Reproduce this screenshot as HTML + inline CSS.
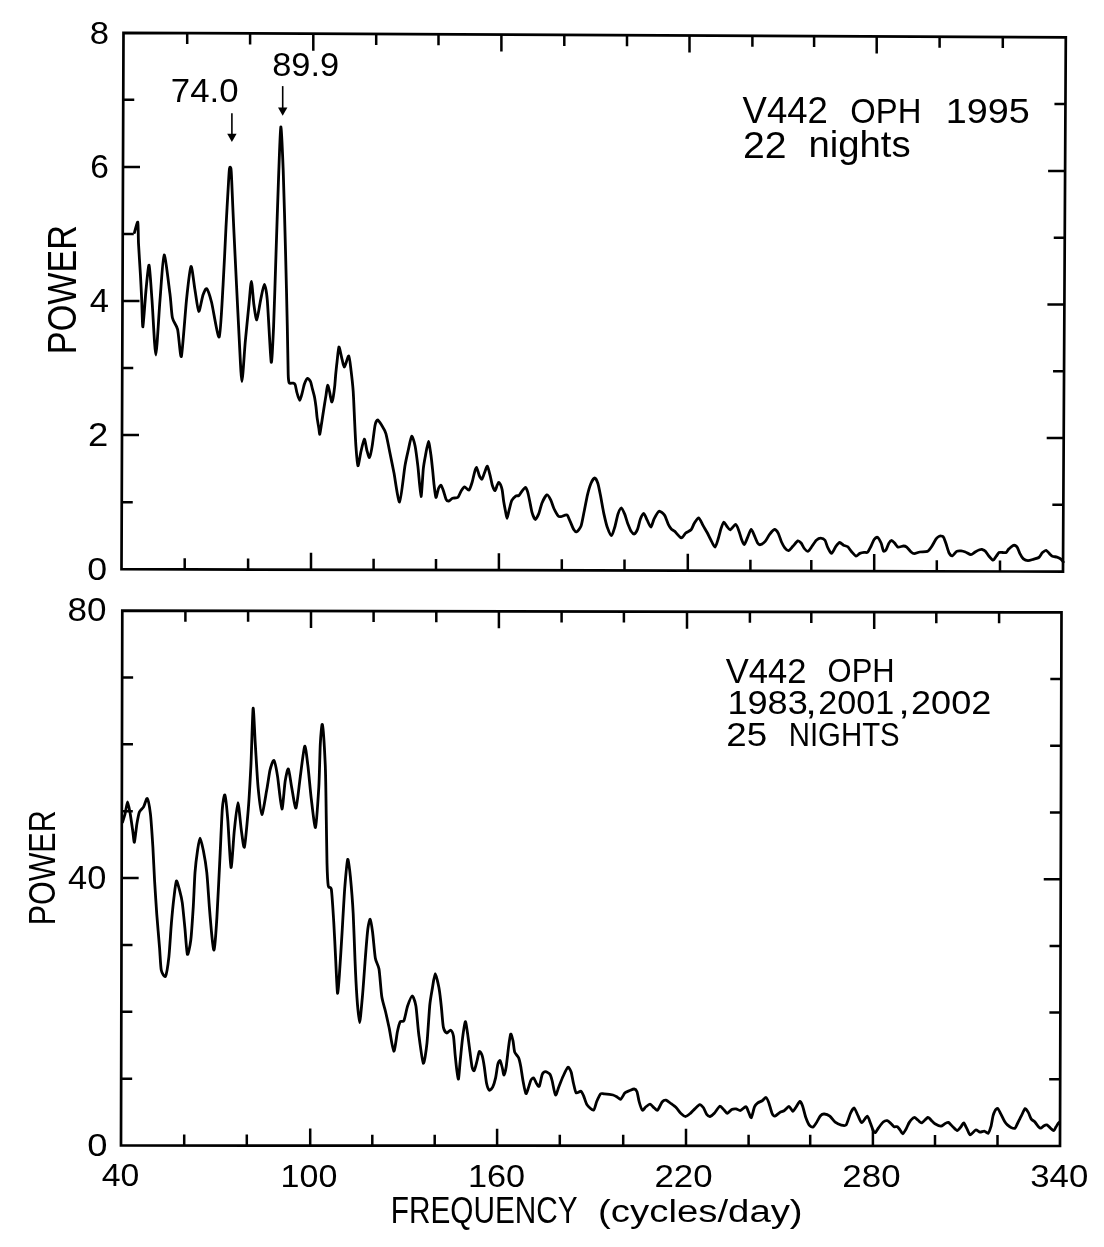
<!DOCTYPE html>
<html><head><meta charset="utf-8"><title>V442 Oph power spectra</title>
<style>html,body{margin:0;padding:0;background:#fff;}svg{display:block;will-change:transform;}</style></head>
<body><svg width="1104" height="1247" viewBox="0 0 1104 1247">
<rect width="1104" height="1247" fill="#fff"/>
<polygon points="123.5,32.8 1065.8,37.3 1063.0,571.6 121.5,569.2" fill="none" stroke="#000" stroke-width="2.7" stroke-linejoin="miter"/><polygon points="122.3,610.6 1061.5,612.4 1060.0,1146.0 121.0,1145.5" fill="none" stroke="#000" stroke-width="2.7" stroke-linejoin="miter"/><path d="M187.20 33.10v11.0 M184.70 569.36v-11.0 M250.10 33.40v11.0 M248.10 569.52v-11.0 M313.30 33.70v17.0 M311.00 569.68v-17.0 M376.20 34.00v11.0 M373.60 569.84v-11.0 M438.50 34.30v11.0 M436.00 570.00v-11.0 M501.40 34.60v17.0 M498.90 570.16v-17.0 M564.30 34.90v11.0 M561.80 570.32v-11.0 M627.00 35.20v11.0 M624.50 570.48v-11.0 M689.50 35.50v17.0 M687.80 570.64v-17.0 M752.40 35.80v11.0 M750.40 570.80v-11.0 M814.10 36.10v11.0 M811.30 570.96v-11.0 M876.70 36.40v17.0 M874.20 571.12v-17.0 M939.60 36.70v11.0 M936.80 571.28v-11.0 M1002.80 37.00v11.0 M1000.00 571.44v-11.0 M121.75 502.15h11.0 M1063.35 504.81h-11.0 M122.00 435.10h17.0 M1063.70 438.03h-17.0 M122.25 368.05h11.0 M1064.05 371.24h-11.0 M122.50 301.00h17.0 M1064.40 304.45h-17.0 M122.75 233.95h11.0 M1064.75 237.66h-11.0 M123.00 166.90h17.0 M1065.10 170.88h-17.0 M123.25 99.85h11.0 M1065.45 104.09h-11.0" stroke="#000" stroke-width="2.5" fill="none"/><path d="M185.40 610.72v11.0 M184.20 1145.53v-11.0 M248.10 610.84v11.0 M246.80 1145.57v-11.0 M311.00 610.96v17.0 M310.20 1145.60v-17.0 M373.60 611.08v11.0 M372.30 1145.63v-11.0 M436.30 611.20v11.0 M434.70 1145.67v-11.0 M498.90 611.32v17.0 M497.10 1145.70v-17.0 M561.60 611.44v11.0 M559.80 1145.73v-11.0 M623.90 611.56v11.0 M623.20 1145.77v-11.0 M687.00 611.68v17.0 M686.00 1145.80v-17.0 M749.90 611.80v11.0 M748.60 1145.83v-11.0 M811.30 611.92v11.0 M810.20 1145.87v-11.0 M874.20 612.04v17.0 M872.90 1145.90v-17.0 M936.30 612.16v11.0 M935.00 1145.93v-11.0 M999.10 612.28v11.0 M997.50 1145.97v-11.0 M121.16 1078.64h11.0 M1060.19 1079.30h-11.0 M121.33 1011.77h11.0 M1060.38 1012.60h-11.0 M121.49 944.91h11.0 M1060.56 945.90h-11.0 M121.65 878.05h17.0 M1060.75 879.20h-17.0 M121.81 811.19h11.0 M1060.94 812.50h-11.0 M121.97 744.33h11.0 M1061.12 745.80h-11.0 M122.14 677.46h11.0 M1061.31 679.10h-11.0" stroke="#000" stroke-width="2.5" fill="none"/><path d="M231.9 113.2V137.9" stroke="#000" stroke-width="1.6" fill="none"/><path d="M227.20000000000002 133.70000000000002L231.9 141.9L236.6 133.70000000000002Z" fill="#000"/><path d="M282.7 86.1V111.7" stroke="#000" stroke-width="1.6" fill="none"/><path d="M278.0 107.5L282.7 115.7L287.4 107.5Z" fill="#000"/><path d="M134.5 232.5C134.9 231.3 137.3 220.9 137.8 222.2C138.3 223.5 138.2 237.3 138.5 243.4C138.8 249.5 140.0 267.6 140.4 274.2C140.8 280.8 141.4 293.7 141.7 299.8C142.0 305.9 142.4 327.9 142.9 326.8C143.4 325.7 145.3 297.2 146.0 290.0C146.7 282.8 148.4 264.0 149.1 265.2C149.8 266.4 151.2 289.5 152.0 300.0C152.8 310.5 154.9 355.0 155.8 355.0C156.7 355.0 159.0 311.7 160.0 300.0C161.0 288.3 162.9 255.7 164.1 254.9C165.3 254.1 168.9 286.1 169.9 293.4C170.9 300.7 171.5 313.6 172.4 317.8C173.3 322.0 176.5 324.8 177.6 329.3C178.7 333.8 180.4 359.7 181.4 356.3C182.4 352.9 185.4 310.3 186.5 299.8C187.6 289.3 190.0 267.7 191.0 266.5C192.0 265.3 194.0 284.3 194.9 289.5C195.8 294.7 197.8 310.8 198.7 311.4C199.6 312.0 202.1 297.6 203.0 295.0C203.9 292.4 205.7 287.9 206.7 288.7C207.7 289.5 210.0 296.4 211.5 302.0C213.0 307.6 217.8 339.0 219.2 337.0C220.6 335.0 222.3 297.5 223.1 284.7C223.9 271.9 225.4 238.9 226.0 227.0C226.6 215.1 228.1 189.5 228.5 182.7C228.9 175.9 229.2 170.1 229.5 168.4C229.8 166.7 230.6 167.0 230.9 168.4C231.2 169.8 231.4 174.0 231.7 180.8C232.0 187.6 233.1 214.9 233.7 227.0C234.3 239.1 235.8 271.2 236.5 284.7C237.2 298.2 238.8 331.2 239.4 342.5C240.0 353.8 241.2 381.5 241.9 381.5C242.6 381.5 244.4 351.5 245.2 342.5C246.0 333.5 248.3 311.1 249.0 304.0C249.7 296.9 250.8 281.5 251.4 281.5C252.0 281.5 253.2 299.5 253.8 304.0C254.4 308.5 256.0 320.3 256.8 319.8C257.6 319.3 259.7 304.2 260.6 300.1C261.5 296.0 263.5 284.4 264.3 284.4C265.1 284.4 266.5 291.0 267.3 300.1C268.1 309.2 270.5 359.1 271.2 362.2C271.9 365.3 273.0 339.1 273.6 326.5C274.2 313.9 275.4 271.1 276.0 254.3C276.6 237.5 277.8 197.1 278.4 182.2C279.0 167.3 280.2 128.4 280.8 127.0C281.4 125.6 282.6 155.2 283.2 170.1C283.8 185.0 285.1 236.1 285.6 254.3C286.1 272.5 287.0 312.5 287.3 326.5C287.6 340.5 288.0 367.8 288.2 374.4C288.4 381.0 288.7 381.8 289.2 382.8C289.7 383.8 292.2 382.9 292.9 383.1C293.6 383.3 294.6 383.4 295.1 384.5C295.6 385.6 296.4 390.6 296.9 392.5C297.4 394.4 299.2 400.4 299.8 400.4C300.4 400.4 301.8 394.4 302.3 392.5C302.8 390.6 303.9 385.4 304.5 383.8C305.1 382.2 307.0 378.6 307.7 378.4C308.4 378.2 310.1 380.5 310.6 381.7C311.1 382.9 311.9 387.1 312.4 388.9C312.9 390.7 314.2 395.4 314.6 397.5C315.0 399.6 315.7 404.5 316.0 406.9C316.3 409.3 316.8 415.2 317.1 417.7C317.4 420.2 318.6 426.7 318.9 428.6C319.2 430.5 319.5 434.6 319.8 434.3C320.1 434.0 320.7 428.7 321.1 426.4C321.5 424.1 322.5 417.5 322.9 414.8C323.3 412.1 324.3 405.7 324.7 403.3C325.1 400.9 325.9 396.0 326.2 393.9C326.5 391.8 327.2 385.6 327.6 385.3C328.0 385.0 329.0 389.5 329.4 391.0C329.8 392.5 330.5 397.0 330.8 398.3C331.1 399.6 331.6 402.2 331.9 401.9C332.2 401.6 333.1 398.0 333.4 396.1C333.7 394.2 334.5 388.1 334.8 385.3C335.1 382.5 335.6 375.0 335.9 372.3C336.2 369.6 336.6 365.2 337.0 362.2C337.4 359.2 338.4 347.6 338.9 347.0C339.4 346.4 341.0 355.0 341.6 357.3C342.2 359.6 343.6 367.2 344.4 367.0C345.2 366.8 348.0 355.4 348.8 355.9C349.6 356.4 350.6 366.8 351.1 370.9C351.6 375.0 352.8 385.7 353.2 391.3C353.6 396.9 354.2 412.2 354.5 418.6C354.8 425.0 355.5 440.4 355.9 445.9C356.3 451.4 357.3 464.9 357.9 465.7C358.5 466.5 360.0 455.8 360.7 452.7C361.4 449.6 363.6 439.4 364.3 439.1C365.0 438.8 366.2 447.9 366.8 450.0C367.4 452.1 368.9 458.0 369.5 457.5C370.1 457.0 371.6 449.6 372.2 445.9C372.8 442.2 374.4 428.4 375.0 425.4C375.6 422.4 376.9 420.0 377.7 420.0C378.5 420.0 380.8 423.8 381.8 425.4C382.8 427.0 385.0 430.4 385.9 433.6C386.8 436.8 389.0 448.1 389.9 452.7C390.8 457.3 392.9 467.3 394.0 473.1C395.1 478.9 398.3 502.8 399.6 502.0C400.9 501.2 403.9 472.4 404.9 466.3C405.9 460.2 407.5 453.5 408.3 450.0C409.1 446.5 410.9 436.8 411.7 436.3C412.5 435.8 414.4 442.4 415.1 445.9C415.8 449.4 417.2 460.4 417.9 466.3C418.6 472.2 420.4 496.2 421.0 496.5C421.6 496.8 422.8 473.6 423.3 468.9C423.8 464.2 424.8 459.1 425.4 455.9C426.0 452.7 427.9 441.6 428.5 441.5C429.1 441.4 430.4 451.6 430.9 454.8C431.4 458.0 432.1 465.4 432.5 468.9C432.9 472.4 433.7 481.9 434.1 485.2C434.5 488.5 435.4 497.1 435.9 497.5C436.4 497.9 437.9 489.9 438.5 488.5C439.1 487.1 440.4 484.9 441.0 485.2C441.6 485.5 442.8 489.1 443.4 490.7C444.0 492.3 445.5 498.1 446.1 499.3C446.7 500.5 448.0 501.1 448.8 501.0C449.6 500.9 451.5 498.7 452.6 498.3C453.7 497.9 457.0 498.1 458.0 497.2C459.0 496.3 460.5 491.9 461.3 490.7C462.1 489.5 463.7 486.9 464.6 486.8C465.5 486.7 468.0 490.7 468.9 490.1C469.8 489.5 471.6 484.0 472.2 482.0C472.8 480.0 473.8 475.0 474.3 473.3C474.8 471.6 475.9 467.1 476.5 467.3C477.1 467.5 478.6 474.0 479.2 475.4C479.8 476.8 481.4 479.6 482.0 479.2C482.6 478.8 484.1 473.7 484.7 472.2C485.3 470.7 486.8 465.8 487.4 466.2C488.0 466.6 489.5 473.2 490.1 475.4C490.7 477.6 491.7 483.4 492.3 485.2C492.9 487.0 494.4 490.7 495.0 490.7C495.6 490.7 496.7 486.2 497.2 485.2C497.7 484.2 498.5 482.0 499.1 482.5C499.7 483.0 501.6 487.4 502.1 489.6C502.6 491.8 503.3 499.1 503.7 501.5C504.1 503.9 504.9 508.2 505.3 510.2C505.7 512.2 506.6 518.4 507.0 518.4C507.4 518.4 508.5 512.3 509.1 510.2C509.7 508.1 511.0 502.0 511.8 500.4C512.6 498.8 514.9 496.7 515.7 496.1C516.5 495.5 518.2 496.0 518.9 495.5C519.6 495.0 520.8 492.6 521.6 491.7C522.4 490.8 524.7 487.4 525.4 487.4C526.1 487.4 527.1 490.1 527.6 491.7C528.1 493.3 529.3 499.1 529.8 501.5C530.3 503.9 531.4 510.3 532.0 512.4C532.6 514.5 534.5 519.3 535.3 519.5C536.1 519.7 537.9 515.8 538.7 513.9C539.5 512.0 541.1 505.2 542.0 503.0C542.9 500.8 545.8 495.3 546.8 494.9C547.8 494.5 549.9 498.2 550.7 499.8C551.5 501.4 553.0 506.6 553.9 508.5C554.8 510.4 557.5 515.2 558.3 516.1C559.1 517.0 560.0 516.7 561.0 516.6C562.0 516.5 565.9 514.4 567.0 515.0C568.1 515.6 569.4 519.9 570.2 521.5C571.0 523.1 572.7 527.9 573.5 529.1C574.3 530.3 575.8 532.2 576.7 531.8C577.6 531.4 580.2 528.4 581.1 525.9C582.0 523.4 583.5 514.4 584.3 510.7C585.1 507.0 586.8 497.5 587.6 494.3C588.4 491.1 590.1 485.4 590.9 483.5C591.7 481.6 593.9 478.0 594.7 478.0C595.5 478.0 597.2 481.3 597.9 483.5C598.6 485.7 600.0 493.0 600.7 496.5C601.4 500.0 603.1 510.3 603.9 513.9C604.7 517.5 606.3 524.5 607.2 527.0C608.1 529.5 610.6 535.7 611.5 535.7C612.4 535.7 614.0 529.5 614.8 527.0C615.6 524.5 617.2 516.1 618.0 513.9C618.8 511.7 620.5 507.9 621.3 507.9C622.1 507.9 623.8 512.1 624.6 513.9C625.4 515.7 627.0 521.7 627.8 523.7C628.6 525.7 630.3 530.1 631.1 531.3C631.9 532.5 633.5 534.3 634.3 534.0C635.1 533.7 636.9 530.8 637.6 529.1C638.3 527.4 639.6 521.1 640.3 519.3C641.0 517.5 642.9 513.4 643.7 513.5C644.5 513.6 646.4 518.6 647.2 520.2C648.0 521.8 650.1 527.3 650.9 527.1C651.7 526.9 653.2 520.7 654.1 518.9C655.0 517.1 657.8 511.7 659.0 511.3C660.2 510.9 663.4 513.6 664.5 515.1C665.6 516.6 667.5 522.7 668.3 524.3C669.1 525.9 670.7 528.4 671.5 529.2C672.3 530.0 673.7 530.4 674.8 531.4C675.9 532.4 680.0 537.7 681.3 537.9C682.6 538.1 684.6 533.9 685.7 533.0C686.8 532.1 690.1 530.9 691.1 529.8C692.1 528.7 693.4 524.7 694.3 523.3C695.2 521.9 697.7 517.6 698.7 517.8C699.7 518.0 702.0 523.6 703.0 525.4C704.0 527.2 706.5 531.3 707.4 533.0C708.3 534.7 709.8 537.9 710.7 539.6C711.6 541.3 714.1 547.3 715.0 547.2C715.9 547.1 717.6 540.7 718.3 538.5C719.0 536.3 720.4 530.6 721.0 528.7C721.6 526.8 723.0 522.5 723.7 522.2C724.4 521.9 726.2 525.6 727.0 526.5C727.8 527.4 729.2 530.1 730.2 529.8C731.2 529.5 734.7 524.2 735.7 524.3C736.7 524.4 738.2 529.1 738.9 530.9C739.6 532.7 741.0 538.0 741.6 539.6C742.2 541.2 743.6 544.8 744.3 544.5C745.0 544.2 746.8 539.2 747.6 537.4C748.4 535.6 750.4 529.5 751.2 529.3C752.0 529.1 753.6 533.8 754.3 535.4C755.0 537.0 756.9 541.9 757.6 543.0C758.3 544.1 759.4 544.9 760.3 544.7C761.2 544.5 764.1 542.6 765.2 541.4C766.3 540.2 768.5 535.7 769.6 534.3C770.7 532.9 773.5 529.6 774.5 529.5C775.5 529.4 777.5 531.8 778.3 533.3C779.1 534.8 780.7 540.3 781.5 542.0C782.3 543.7 784.0 546.9 784.8 547.9C785.6 548.9 787.7 550.9 788.6 550.7C789.5 550.5 791.8 547.4 792.9 546.3C794.0 545.2 796.8 541.3 797.8 540.9C798.8 540.5 800.3 542.1 801.1 543.0C801.9 543.9 803.5 547.5 804.3 548.5C805.1 549.5 807.3 551.5 808.2 551.2C809.1 550.9 811.1 547.6 812.0 546.3C812.9 545.0 815.3 541.2 816.3 540.3C817.3 539.4 819.7 538.2 820.7 538.2C821.7 538.2 824.2 539.2 825.0 540.3C825.8 541.4 826.9 545.9 827.7 547.4C828.5 548.9 830.5 553.5 831.5 553.4C832.5 553.3 834.9 547.6 835.9 546.3C836.9 545.0 838.8 542.6 839.7 542.5C840.6 542.4 842.6 544.7 843.5 545.2C844.4 545.7 846.9 546.0 847.8 546.8C848.7 547.6 850.6 550.6 851.6 551.7C852.6 552.8 855.0 555.9 856.0 556.1C857.0 556.3 858.9 553.8 859.8 553.4C860.7 553.0 863.2 552.4 864.1 552.3C865.0 552.2 866.7 553.0 867.5 552.3C868.3 551.6 870.1 548.0 870.9 546.5C871.7 545.0 873.3 540.6 874.1 539.5C874.9 538.4 876.6 536.9 877.4 537.3C878.2 537.7 880.5 541.7 881.2 543.3C881.9 544.9 882.8 550.1 883.4 550.9C884.0 551.7 885.5 550.7 886.1 549.8C886.7 548.9 888.2 544.4 888.8 543.3C889.4 542.2 890.8 540.5 891.5 540.5C892.2 540.5 894.0 542.5 894.8 543.3C895.6 544.1 897.0 546.8 898.0 547.1C899.0 547.4 902.5 546.0 903.5 546.0C904.5 546.0 905.8 546.4 906.7 547.1C907.6 547.8 910.2 551.2 911.1 552.0C912.0 552.8 913.3 553.6 914.3 553.6C915.3 553.6 918.3 552.3 919.8 552.0C921.3 551.7 926.0 552.0 927.4 551.4C928.8 550.8 930.7 548.0 931.7 546.5C932.7 545.0 935.2 540.1 936.1 538.9C937.0 537.7 938.5 536.5 939.3 536.2C940.1 535.9 942.4 535.9 943.2 536.7C944.0 537.5 945.2 541.4 945.9 543.3C946.6 545.2 948.3 551.5 949.1 553.0C949.9 554.5 951.5 556.0 952.4 555.8C953.3 555.6 955.7 552.0 956.7 551.4C957.7 550.8 960.1 550.8 961.1 550.9C962.1 551.0 964.3 551.6 965.4 552.0C966.5 552.4 969.8 554.7 970.9 554.7C972.0 554.7 974.2 552.6 975.2 552.0C976.2 551.4 978.8 550.1 979.6 549.8C980.4 549.5 981.1 549.2 981.8 549.4C982.5 549.6 984.6 550.4 985.4 551.2C986.2 552.0 988.1 555.2 989.0 556.2C989.9 557.2 992.2 560.2 993.1 560.2C994.0 560.2 995.6 557.1 996.3 556.2C997.0 555.3 998.3 552.9 999.0 552.5C999.7 552.1 1001.8 552.5 1002.6 552.5C1003.4 552.5 1005.5 552.9 1006.2 552.5C1006.9 552.1 1008.0 549.7 1008.9 548.9C1009.8 548.1 1012.5 545.5 1013.5 545.3C1014.5 545.1 1016.4 546.2 1017.1 547.1C1017.8 548.0 1019.1 552.0 1019.8 553.4C1020.5 554.8 1022.4 558.0 1023.4 558.9C1024.4 559.8 1026.8 560.7 1028.0 560.7C1029.2 560.7 1032.1 559.7 1033.4 559.3C1034.7 558.9 1037.7 558.3 1038.8 557.5C1039.9 556.7 1041.6 553.3 1042.5 552.5C1043.4 551.7 1045.3 550.1 1046.1 550.3C1046.9 550.5 1049.0 553.2 1049.7 553.9C1050.4 554.6 1051.5 555.8 1052.4 556.2C1053.3 556.6 1056.0 556.8 1057.0 557.1C1058.0 557.4 1059.9 558.3 1060.6 558.9C1061.3 559.5 1063.0 561.6 1063.3 562.0" fill="none" stroke="#000" stroke-width="2.8" stroke-linejoin="round" stroke-linecap="round"/><path d="M122.6 822.1C122.9 821.1 124.5 816.1 125.1 813.7C125.7 811.3 127.0 801.9 127.6 801.9C128.2 801.9 129.6 810.4 130.2 813.7C130.8 817.0 132.2 827.2 132.7 830.5C133.2 833.8 133.9 843.1 134.4 842.3C134.9 841.5 136.3 827.3 136.9 823.8C137.5 820.3 138.6 814.0 139.4 812.0C140.2 810.0 142.7 808.5 143.6 806.9C144.5 805.3 146.5 797.7 147.3 798.5C148.1 799.3 149.7 808.0 150.4 813.7C151.1 819.4 152.4 839.5 152.9 847.4C153.4 855.3 154.1 873.1 154.6 881.0C155.1 888.9 156.2 906.8 156.8 914.7C157.4 922.6 159.1 941.9 159.6 948.4C160.1 954.9 160.6 967.1 161.3 970.3C162.0 973.5 164.6 977.8 165.5 976.2C166.4 974.6 168.2 963.0 168.9 956.8C169.6 950.6 170.8 930.0 171.4 923.1C172.0 916.2 173.3 902.8 173.9 897.9C174.5 893.0 175.7 881.8 176.4 881.0C177.1 880.2 179.1 888.5 179.8 891.1C180.5 893.7 181.7 898.6 182.3 902.9C182.9 907.2 184.3 922.2 184.9 928.2C185.5 934.2 186.7 952.9 187.4 954.3C188.1 955.7 190.1 945.6 190.8 940.0C191.5 934.4 192.8 914.2 193.3 906.3C193.8 898.4 194.5 879.1 195.0 872.6C195.5 866.1 196.9 854.7 197.5 850.7C198.1 846.7 199.3 838.1 200.0 838.1C200.7 838.1 202.6 846.7 203.4 850.7C204.2 854.7 206.1 866.1 206.8 872.6C207.5 879.1 208.8 899.6 209.3 906.3C209.8 913.0 210.8 924.9 211.3 930.0C211.8 935.1 213.3 951.5 214.0 950.0C214.7 948.5 216.2 928.7 216.9 917.3C217.6 905.9 219.6 865.0 220.2 852.4C220.8 839.8 221.8 815.8 222.3 809.1C222.8 802.4 224.3 793.7 224.9 795.0C225.5 796.3 227.1 811.4 227.8 819.9C228.5 828.4 230.2 866.2 231.0 867.5C231.8 868.8 233.5 838.3 234.3 830.7C235.1 823.1 237.1 802.6 237.9 802.6C238.7 802.6 240.6 825.5 241.4 830.7C242.2 835.9 243.6 849.5 244.4 847.0C245.2 844.5 247.5 818.6 248.3 809.1C249.1 799.6 250.3 777.5 250.9 765.8C251.5 754.1 252.6 710.9 253.1 708.4C253.6 705.9 254.7 734.9 255.3 744.1C255.9 753.3 257.3 779.2 258.1 787.4C258.9 795.6 260.8 814.2 261.8 814.5C262.8 814.8 265.8 794.8 266.8 789.6C267.8 784.4 269.2 773.5 270.0 770.1C270.8 766.7 273.0 759.6 273.9 760.4C274.8 761.2 276.7 770.9 277.6 776.6C278.5 782.3 281.0 808.6 281.9 809.1C282.8 809.6 284.4 785.6 285.2 780.9C286.0 776.2 287.6 768.2 288.4 769.0C289.2 769.8 290.8 782.9 291.7 787.4C292.6 791.9 295.0 809.3 296.0 808.0C297.0 806.7 299.3 783.8 300.3 776.6C301.3 769.4 303.8 747.6 304.7 746.3C305.6 745.0 307.1 759.7 307.9 765.8C308.7 771.9 310.3 791.0 311.2 798.2C312.1 805.4 314.6 828.8 315.5 827.5C316.4 826.2 318.2 797.1 318.8 787.4C319.4 777.7 319.9 751.4 320.3 744.1C320.7 736.8 321.8 722.1 322.4 724.6C323.0 727.1 324.8 754.7 325.3 765.8C325.8 776.9 326.1 808.6 326.3 819.9C326.5 831.2 326.8 855.3 327.0 863.0C327.2 870.7 327.8 883.0 328.3 886.1C328.8 889.2 330.8 885.5 331.4 889.8C332.0 894.1 333.3 914.8 333.8 923.0C334.3 931.2 335.3 951.7 335.7 959.9C336.1 968.1 337.1 991.4 337.5 993.1C337.9 994.8 338.9 981.7 339.4 974.6C339.9 967.5 341.5 942.5 342.1 932.2C342.7 921.9 344.2 894.6 344.9 886.1C345.6 877.6 347.1 860.5 347.7 859.4C348.3 858.3 349.8 870.6 350.4 876.9C351.0 883.2 352.7 904.1 353.2 913.8C353.7 923.5 354.6 950.2 355.0 959.9C355.4 969.6 356.4 989.5 356.9 996.8C357.4 1004.1 359.0 1022.6 359.6 1022.6C360.2 1022.6 361.7 1004.1 362.4 996.8C363.1 989.5 364.6 967.9 365.2 959.9C365.8 951.9 367.3 933.2 367.9 928.5C368.5 923.8 369.7 918.9 370.2 919.3C370.7 919.7 372.0 927.7 372.6 932.2C373.2 936.7 374.6 953.7 375.3 958.0C376.0 962.3 378.2 964.6 379.0 969.1C379.8 973.6 381.0 991.9 381.8 996.8C382.6 1001.7 384.6 1007.8 385.5 1011.5C386.4 1015.2 388.2 1023.5 389.2 1028.1C390.2 1032.7 392.8 1050.8 393.8 1051.2C394.8 1051.6 396.7 1035.2 397.4 1031.8C398.1 1028.4 399.4 1023.0 400.2 1021.7C401.0 1020.4 403.0 1022.5 403.9 1020.7C404.8 1018.9 406.6 1008.9 407.6 1006.0C408.6 1003.1 411.2 995.8 412.2 995.8C413.2 995.8 415.1 1001.6 415.9 1006.0C416.7 1010.4 417.8 1027.0 418.7 1033.7C419.6 1040.4 422.3 1062.1 423.3 1063.2C424.3 1064.3 426.3 1049.6 427.0 1042.9C427.7 1036.2 429.1 1012.5 429.7 1006.0C430.3 999.5 431.9 991.3 432.5 987.5C433.1 983.7 434.5 973.7 435.2 973.7C435.9 973.7 438.3 984.4 438.9 987.5C439.5 990.6 440.3 997.3 440.6 1000.0C440.9 1002.7 441.4 1007.3 441.7 1010.5C442.0 1013.7 442.8 1024.8 443.4 1027.4C444.0 1030.0 445.8 1032.7 446.7 1033.0C447.6 1033.3 449.9 1029.8 450.7 1030.2C451.5 1030.6 453.0 1033.4 453.5 1036.3C454.0 1039.2 454.8 1051.5 455.2 1055.4C455.6 1059.3 456.4 1067.2 456.8 1070.0C457.2 1072.8 458.1 1080.0 458.5 1079.0C458.9 1078.0 459.7 1065.7 460.2 1061.0C460.7 1056.3 461.9 1043.2 462.5 1038.6C463.1 1034.0 464.7 1022.4 465.3 1021.7C465.9 1021.0 467.0 1029.7 467.5 1033.0C468.0 1036.3 469.2 1045.9 469.7 1049.8C470.2 1053.7 471.5 1064.3 472.0 1066.7C472.5 1069.1 473.6 1071.3 474.2 1070.6C474.8 1069.9 476.4 1063.2 477.0 1061.0C477.6 1058.8 478.7 1052.2 479.3 1051.5C479.9 1050.8 481.5 1053.6 482.1 1055.4C482.7 1057.2 483.8 1063.4 484.3 1066.7C484.8 1070.0 486.0 1080.8 486.6 1083.5C487.2 1086.2 488.7 1089.8 489.4 1090.2C490.1 1090.6 492.1 1088.3 492.8 1086.9C493.5 1085.5 495.0 1080.5 495.6 1077.9C496.2 1075.3 497.3 1066.4 497.8 1064.4C498.3 1062.4 499.6 1060.1 500.1 1060.5C500.6 1060.9 501.8 1066.1 502.3 1067.8C502.8 1069.5 503.5 1075.2 504.0 1075.1C504.5 1075.0 505.7 1069.9 506.2 1066.7C506.7 1063.5 508.0 1051.4 508.5 1047.6C509.0 1043.8 510.2 1034.9 510.7 1034.1C511.2 1033.3 512.5 1038.7 513.0 1040.8C513.5 1042.9 514.0 1050.1 514.7 1052.1C515.4 1054.1 517.9 1056.0 518.6 1057.7C519.3 1059.4 520.3 1063.9 520.8 1066.7C521.3 1069.5 522.5 1078.2 523.1 1081.3C523.7 1084.4 525.2 1092.9 525.9 1093.6C526.6 1094.3 528.1 1088.5 528.7 1086.9C529.3 1085.3 530.3 1081.1 530.9 1080.1C531.5 1079.0 533.0 1077.5 533.7 1077.9C534.4 1078.3 535.8 1082.5 536.5 1083.5C537.2 1084.5 538.6 1087.3 539.3 1086.3C540.0 1085.2 541.5 1076.2 542.2 1074.5C542.9 1072.8 544.6 1071.7 545.5 1071.7C546.4 1071.7 549.2 1073.3 550.0 1074.4C550.8 1075.5 551.6 1078.6 552.2 1081.0C552.8 1083.4 554.7 1094.3 555.5 1095.0C556.3 1095.7 557.9 1089.2 558.8 1087.0C559.7 1084.8 561.9 1078.8 563.0 1076.5C564.1 1074.2 566.9 1067.8 567.9 1067.3C568.9 1066.8 570.6 1070.4 571.2 1072.2C571.8 1074.0 572.8 1080.6 573.4 1083.0C574.0 1085.4 575.2 1091.8 576.1 1092.8C577.0 1093.8 580.1 1090.8 581.0 1091.2C581.9 1091.6 583.0 1094.5 583.7 1096.1C584.4 1097.7 585.9 1103.2 587.0 1104.8C588.1 1106.4 592.4 1110.6 593.5 1110.2C594.6 1109.8 595.9 1103.4 596.7 1101.5C597.5 1099.6 599.6 1094.8 600.5 1093.9C601.4 1093.0 602.8 1093.8 604.3 1093.9C605.8 1094.0 611.5 1094.6 613.0 1095.0C614.5 1095.4 616.5 1096.7 617.4 1097.2C618.3 1097.7 619.8 1099.8 620.7 1099.3C621.6 1098.8 624.0 1093.8 625.0 1092.8C626.0 1091.8 628.2 1091.1 629.3 1090.7C630.4 1090.3 633.3 1088.9 634.2 1089.0C635.1 1089.1 636.4 1090.2 637.0 1091.7C637.6 1093.2 638.5 1099.3 639.1 1101.5C639.7 1103.7 641.6 1109.6 642.4 1110.2C643.2 1110.8 644.8 1107.7 645.7 1107.0C646.6 1106.3 649.0 1104.1 650.0 1104.2C651.0 1104.3 653.4 1107.3 654.3 1108.0C655.2 1108.7 656.7 1110.9 657.6 1110.2C658.5 1109.5 661.1 1103.2 662.1 1102.0C663.1 1100.8 665.0 1099.9 666.0 1100.1C667.0 1100.3 669.7 1102.6 670.9 1103.5C672.1 1104.4 675.2 1106.7 676.3 1107.8C677.4 1108.9 679.6 1112.3 680.7 1113.3C681.8 1114.3 684.4 1116.5 685.5 1116.5C686.6 1116.5 689.3 1114.2 690.4 1113.3C691.5 1112.4 693.7 1109.9 694.8 1108.9C695.9 1107.9 698.7 1104.7 699.7 1104.6C700.7 1104.5 702.7 1106.7 703.5 1107.8C704.3 1108.9 705.9 1113.3 706.7 1114.3C707.5 1115.3 709.1 1116.6 710.0 1116.5C710.9 1116.4 713.2 1114.5 714.3 1113.3C715.4 1112.1 718.7 1106.6 719.8 1106.2C720.9 1105.8 723.2 1109.2 724.1 1110.0C725.0 1110.8 726.5 1113.4 727.4 1113.3C728.3 1113.2 730.7 1110.0 731.7 1109.5C732.7 1109.0 735.1 1108.8 736.1 1108.9C737.1 1109.0 739.3 1110.8 740.4 1110.5C741.5 1110.2 744.9 1106.5 745.9 1106.7C746.9 1106.9 748.0 1110.9 748.6 1112.2C749.2 1113.5 750.6 1118.2 751.3 1117.6C752.0 1117.0 753.8 1108.4 754.6 1106.7C755.4 1105.0 756.9 1103.6 757.8 1102.9C758.7 1102.2 761.2 1101.4 762.2 1100.8C763.2 1100.2 765.2 1097.3 766.0 1097.5C766.8 1097.7 768.0 1100.6 768.7 1102.4C769.4 1104.2 771.3 1111.7 772.0 1113.3C772.7 1114.9 774.0 1116.3 774.9 1116.2C775.8 1116.1 778.7 1113.0 779.8 1112.4C780.9 1111.8 783.0 1111.5 784.1 1110.8C785.2 1110.1 788.0 1106.3 789.0 1106.4C790.0 1106.5 792.0 1111.2 792.8 1111.3C793.6 1111.4 795.3 1108.1 796.1 1107.0C796.9 1105.9 799.1 1101.6 799.9 1101.5C800.7 1101.4 801.9 1104.0 802.6 1105.9C803.3 1107.8 805.1 1115.6 805.9 1117.8C806.7 1120.0 808.3 1123.8 809.1 1124.9C809.9 1126.0 812.0 1127.4 812.9 1127.1C813.8 1126.8 815.8 1123.5 816.7 1122.2C817.6 1120.9 819.6 1116.7 820.5 1115.7C821.4 1114.7 823.2 1113.9 824.3 1114.0C825.4 1114.1 828.5 1115.2 829.8 1116.2C831.1 1117.2 833.9 1121.2 835.2 1122.2C836.5 1123.2 839.4 1124.6 840.7 1124.9C842.0 1125.2 845.0 1126.2 846.1 1124.9C847.2 1123.6 849.5 1115.5 850.4 1113.5C851.3 1111.5 853.3 1107.7 854.2 1108.0C855.1 1108.3 857.1 1114.0 858.0 1115.7C858.9 1117.4 860.7 1122.6 861.8 1122.7C862.9 1122.8 866.3 1116.1 867.3 1116.2C868.3 1116.3 869.8 1121.6 870.5 1123.3C871.2 1125.0 872.7 1129.8 873.3 1130.9C873.9 1132.0 874.8 1132.9 875.4 1132.5C876.0 1132.1 877.8 1128.8 878.7 1127.6C879.6 1126.4 882.2 1122.8 883.2 1122.0C884.2 1121.2 886.3 1120.5 887.2 1120.7C888.1 1120.9 890.1 1122.8 890.9 1123.5C891.7 1124.2 893.3 1126.3 894.1 1126.7C894.9 1127.1 896.7 1126.3 897.4 1126.7C898.1 1127.1 899.5 1129.2 900.1 1130.0C900.7 1130.8 902.1 1133.9 902.8 1133.8C903.5 1133.7 905.3 1130.2 906.1 1128.9C906.9 1127.6 908.4 1123.7 909.3 1122.4C910.2 1121.1 913.2 1117.8 914.2 1117.5C915.2 1117.2 917.1 1119.6 918.0 1120.2C918.9 1120.8 920.7 1123.2 921.8 1122.9C922.9 1122.6 926.6 1117.7 927.8 1117.5C929.0 1117.3 931.3 1120.5 932.2 1121.3C933.1 1122.1 934.4 1123.4 935.4 1124.0C936.4 1124.6 939.8 1126.3 940.9 1126.2C942.0 1126.1 944.3 1123.9 945.2 1123.5C946.1 1123.1 947.6 1122.0 948.5 1122.4C949.4 1122.8 951.8 1125.8 952.8 1126.7C953.8 1127.6 956.2 1130.5 957.2 1130.5C958.2 1130.5 960.2 1127.6 961.0 1126.7C961.8 1125.8 963.0 1122.6 963.7 1122.9C964.4 1123.2 966.2 1127.5 967.0 1128.9C967.8 1130.3 969.2 1134.8 970.2 1134.9C971.2 1135.0 974.6 1130.3 975.7 1130.0C976.8 1129.7 979.0 1132.1 980.0 1132.2C981.0 1132.3 983.3 1131.0 984.3 1131.1C985.3 1131.2 987.4 1133.8 988.2 1133.3C989.0 1132.8 990.3 1128.7 990.9 1126.7C991.5 1124.7 992.5 1117.9 993.0 1116.0C993.5 1114.1 994.7 1111.3 995.2 1110.4C995.7 1109.5 997.0 1108.0 997.7 1108.4C998.4 1108.8 1000.1 1112.6 1000.9 1114.1C1001.7 1115.6 1003.7 1120.0 1004.5 1121.3C1005.3 1122.6 1006.6 1124.2 1007.4 1124.9C1008.2 1125.6 1010.1 1127.1 1011.0 1127.5C1011.9 1127.9 1014.2 1128.7 1015.0 1128.2C1015.8 1127.7 1016.8 1124.9 1017.5 1123.5C1018.2 1122.1 1020.3 1117.9 1021.2 1116.2C1022.1 1114.5 1024.3 1109.0 1025.1 1108.6C1025.9 1108.2 1027.7 1111.4 1028.4 1112.6C1029.1 1113.8 1030.5 1118.0 1031.3 1119.1C1032.1 1120.2 1034.1 1121.1 1034.9 1122.0C1035.7 1122.9 1037.5 1125.7 1038.2 1126.4C1038.9 1127.1 1040.1 1128.2 1040.7 1128.2C1041.3 1128.2 1042.9 1126.4 1043.6 1126.0C1044.3 1125.6 1046.1 1124.7 1046.9 1124.9C1047.7 1125.1 1049.3 1127.1 1050.1 1127.8C1050.9 1128.5 1053.1 1130.8 1053.8 1130.7C1054.5 1130.6 1055.4 1127.9 1055.9 1127.1C1056.4 1126.3 1057.7 1124.1 1058.1 1123.5C1058.5 1122.9 1059.4 1122.2 1059.6 1122.0" fill="none" stroke="#000" stroke-width="2.8" stroke-linejoin="round" stroke-linecap="round"/>
<g font-family="'Liberation Sans', sans-serif" font-size="200" fill="#000">
<text transform="matrix(0.17340 0 0 0.15915 89.74 43.68)">8</text><text transform="matrix(0.16739 0 0 0.16268 90.13 177.67)">6</text><text transform="matrix(0.17300 0 0 0.16884 89.73 312.40)">4</text><text transform="matrix(0.18242 0 0 0.16214 87.88 446.30)">2</text><text transform="matrix(0.17895 0 0 0.15915 87.37 580.48)">0</text><text transform="matrix(0 -0.17082 0.19930 0 75.80 354.13)">POWER</text><text transform="matrix(0.17385 0 0 0.16549 170.86 101.87)">74.0</text><text transform="matrix(0.17197 0 0 0.16549 272.15 76.17)">89.9</text><text transform="matrix(0.18268 0 0 0.18143 742.52 122.60)">V442</text><text transform="matrix(0.16422 0 0 0.17817 850.32 123.14)">OPH</text><text transform="matrix(0.18886 0 0 0.17817 945.87 123.14)">1995</text><text transform="matrix(0.19604 0 0 0.18786 743.04 157.50)">22</text><text transform="matrix(0.19162 0 0 0.18342 808.41 157.00)">nights</text><text transform="matrix(0.17524 0 0 0.16549 67.62 621.37)">80</text><text transform="matrix(0.17190 0 0 0.16549 68.04 889.47)">40</text><text transform="matrix(0.18211 0 0 0.15634 87.14 1156.39)">0</text><text transform="matrix(0 -0.15219 0.18803 0 55.32 925.34)">POWER</text><text transform="matrix(0.17281 0 0 0.17143 725.73 682.60)">V442</text><text transform="matrix(0.15466 0 0 0.16620 827.61 682.27)">OPH</text><text transform="matrix(0.18076 0 0 0.16901 727.39 714.46)">1983</text><text transform="matrix(0.17082 0 0 0.16901 818.19 714.46)">2001</text><text transform="matrix(0.18047 0 0 0.16901 911.00 714.46)">2002</text><text transform="matrix(0.20787 0 0 0.16901 805.35 714.46)">,</text><text transform="matrix(0.20787 0 0 0.16901 898.25 714.46)">,</text><text transform="matrix(0.18382 0 0 0.16268 726.36 746.17)">25</text><text transform="matrix(0.14685 0 0 0.16268 788.75 746.17)">NIGHTS</text><text transform="matrix(0.16905 0 0 0.15634 101.65 1186.49)">40</text><text transform="matrix(0.17042 0 0 0.15634 280.54 1186.79)">100</text><text transform="matrix(0.17138 0 0 0.15563 467.93 1186.59)">160</text><text transform="matrix(0.17437 0 0 0.16056 654.46 1187.28)">220</text><text transform="matrix(0.17437 0 0 0.15775 842.36 1186.88)">280</text><text transform="matrix(0.17421 0 0 0.15845 1030.21 1187.28)">340</text><text transform="matrix(0.14883 0 0 0.18406 390.82 1222.60)">FREQUENCY</text><text transform="matrix(0.19175 0 0 0.16138 598.10 1221.70)">(cycles/day)</text>
</g>
</svg></body></html>
